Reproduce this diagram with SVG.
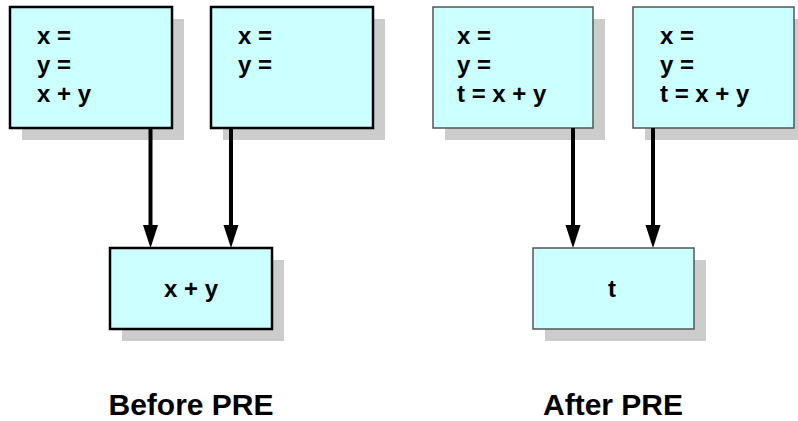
<svg xmlns="http://www.w3.org/2000/svg" width="798" height="421" viewBox="0 0 798 421">
<defs>
<style>
.shadow{fill:#cccccc;stroke:none}
.boxA{fill:#ccffff;stroke:#000000;stroke-width:2.5}
.boxB{fill:#ccffff;stroke:#555555;stroke-width:1.5}
.t{font-family:"Liberation Sans",Arial,sans-serif;font-weight:bold;font-size:24px;fill:#000}
.lbl{font-family:"Liberation Sans",Arial,sans-serif;font-weight:bold;font-size:30px;fill:#000;text-anchor:middle}
.edge{stroke:#000;stroke-width:4;fill:none}
.head{fill:#000}
</style>
</defs>
<rect width="798" height="421" fill="#ffffff"/>
<g id="before-top-left">
<rect class="shadow" x="22" y="19" width="162" height="121"/>
<rect class="boxA" x="10" y="7" width="162" height="121"/>
<text class="t" x="37" y="44">x =</text>
<text class="t" x="37" y="73">y =</text>
<text class="t" x="37" y="102">x + y</text>
</g>
<g id="before-top-right">
<rect class="shadow" x="223" y="19" width="162" height="121"/>
<rect class="boxA" x="211" y="7" width="162" height="121"/>
<text class="t" x="238" y="44">x =</text>
<text class="t" x="238" y="73">y =</text>
</g>
<g id="before-bottom">
<rect class="shadow" x="122" y="260" width="162" height="81"/>
<rect class="boxA" x="110" y="248" width="162" height="81"/>
<text class="t" x="191" y="297" text-anchor="middle">x + y</text>
</g>
<g id="after-top-left">
<rect class="shadow" x="445" y="19" width="160" height="121"/>
<rect class="boxB" x="433" y="7" width="160" height="121"/>
<text class="t" x="457" y="44">x =</text>
<text class="t" x="457" y="73">y =</text>
<text class="t" x="457" y="102">t = x + y</text>
</g>
<g id="after-top-right">
<rect class="shadow" x="645" y="19" width="161" height="121"/>
<rect class="boxB" x="633" y="7" width="161" height="121"/>
<text class="t" x="660" y="44">x =</text>
<text class="t" x="660" y="73">y =</text>
<text class="t" x="660" y="102">t = x + y</text>
</g>
<g id="after-bottom">
<rect class="shadow" x="545" y="260" width="161" height="81"/>
<rect class="boxB" x="533" y="248" width="161" height="81"/>
<text class="t" x="612" y="297" text-anchor="middle">t</text>
</g>
<g id="connectors">
<line class="edge" x1="150.5" y1="128" x2="150.5" y2="228"/>
<polygon class="head" points="143,225 158,225 150.5,248"/>
<line class="edge" x1="231" y1="128" x2="231" y2="228"/>
<polygon class="head" points="223.5,225 238.5,225 231,248"/>
<line class="edge" x1="573" y1="128" x2="573" y2="228"/>
<polygon class="head" points="565.5,225 580.5,225 573,248"/>
<line class="edge" x1="653" y1="128" x2="653" y2="228"/>
<polygon class="head" points="645.5,225 660.5,225 653,248"/>
</g>
<g id="labels">
<text class="lbl" x="191" y="415">Before PRE</text>
<text class="lbl" x="613" y="415">After PRE</text>
</g>
</svg>
